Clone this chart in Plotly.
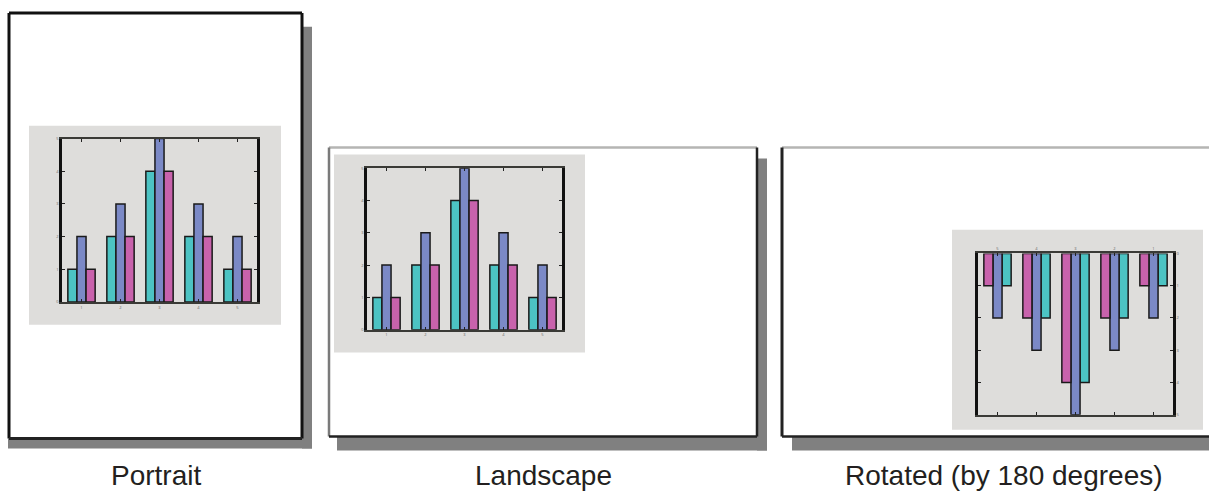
import plotly.graph_objects as go

W, H = 1209, 494

# ---- data ----
categories = ["1", "2", "3", "4", "5"]
series_names = ["A", "B", "C"]
series_a = [1, 2, 4, 2, 1]
series_b = [2, 3, 5, 3, 2]
series_c = [1, 2, 4, 2, 1]
y_ticks = [0, 1, 2, 3, 4, 5]
panel_labels = ["Portrait", "Landscape", "Rotated (by 180 degrees)"]

colors = ["#4cc3c3", "#7b89c6", "#c862ac"]
all_series = [series_a, series_b, series_c]


def px(x):
    return x / W


def py(y):
    return 1 - y / H


fig = go.Figure()

# plot area pixel boxes (left, right, top, bottom)
panels = [
    dict(box=(62, 257, 137, 302), rotated=False),
    dict(box=(367, 562, 167, 330), rotated=False),
    dict(box=(978, 1173, 253, 416), rotated=True),
]

for i, p in enumerate(panels):
    l, r, t, b = p["box"]
    xa = "x" if i == 0 else f"x{i+1}"
    ya = "y" if i == 0 else f"y{i+1}"
    for name, vals, col in zip(series_names, all_series, colors):
        fig.add_trace(go.Bar(
            x=categories, y=vals, name=name, xaxis=xa, yaxis=ya,
            marker=dict(color=col, line=dict(color="#1a1a1a", width=1.5)),
            showlegend=False,
        ))
    xkey = "xaxis" if i == 0 else f"xaxis{i+1}"
    ykey = "yaxis" if i == 0 else f"yaxis{i+1}"
    rot = p["rotated"]
    fig.layout[xkey] = dict(
        domain=[px(l), px(r)], anchor=ya,
        showline=True, linecolor="#3a3a36", linewidth=2, mirror="ticks",
        ticks="inside", ticklen=3, tickcolor="#222",
        tickfont=dict(size=4, color="#666"),
        showgrid=False, side="top" if rot else "bottom",
        autorange="reversed" if rot else True,
        fixedrange=True,
    )
    fig.layout[ykey] = dict(
        domain=[py(b), py(t)], anchor=xa,
        range=[5, 0] if rot else [0, 5],
        tickvals=y_ticks,
        showline=True, linecolor="#111", linewidth=2.5, mirror="ticks",
        ticks="inside", ticklen=3, tickcolor="#222",
        tickfont=dict(size=4, color="#666"),
        showgrid=False, zeroline=False, side="right" if rot else "left",
        fixedrange=True,
    )

shapes = []


def rect(x0, y0, x1, y1, fill, layer="below"):
    shapes.append(dict(type="rect", xref="paper", yref="paper",
                       x0=px(x0), x1=px(x1), y0=py(y1), y1=py(y0),
                       fillcolor=fill, line=dict(width=0), layer=layer))


def line(x0, y0, x1, y1, color, width):
    shapes.append(dict(type="line", xref="paper", yref="paper",
                       x0=px(x0), x1=px(x1), y0=py(y0), y1=py(y1),
                       line=dict(color=color, width=width), layer="below"))


# --- Portrait page ---
rect(302, 24, 312, 450, "#808080")
rect(8, 440, 312, 450, "#808080")
rect(9, 10, 302, 440, "#ffffff")
line(9, 10, 302, 10, "#111", 3)
line(9, 10, 9, 440, "#111", 3)
line(302, 10, 302, 440, "#111", 3)
line(9, 440, 302, 440, "#222", 3)
rect(29, 124, 281, 325, "#dedddb")

# --- Landscape page ---
rect(757, 157, 767, 452, "#808080")
rect(337, 438, 767, 452, "#808080")
rect(329, 146, 757, 438, "#ffffff")
line(329, 146, 757, 146, "#b5b5b3", 2.5)
line(329, 146, 329, 438, "#7a7a7a", 2.5)
line(757, 146, 757, 438, "#222", 2.5)
line(329, 438, 757, 438, "#222", 2.5)
rect(334, 153, 585, 353, "#dedddb")

# --- Rotated page ---
rect(792, 438, 1209, 452, "#808080")
rect(782, 147, 1209, 438, "#ffffff")
line(782, 146, 1209, 146, "#b5b5b3", 2.5)
line(782, 146, 782, 438, "#222", 3)
line(782, 438, 1209, 438, "#222", 2.5)
rect(952, 229, 1203, 431, "#dedddb")

fig.update_layout(shapes=shapes)

# labels
label_x = [155.5, 543, 1003.5]
for lab, lx in zip(panel_labels, label_x):
    fig.add_annotation(text=lab, x=px(lx), y=py(477), xref="paper", yref="paper",
                       showarrow=False, xanchor="center", yanchor="middle",
                       font=dict(family="Liberation Sans, Arial, sans-serif",
                                 size=28, color="#231f20"))

fig.update_layout(
    width=W, height=H,
    margin=dict(l=0, r=0, t=0, b=0),
    paper_bgcolor="#ffffff", plot_bgcolor="#ffffff",
    barmode="group", bargap=0.3, bargroupgap=0,
    showlegend=False,
)

fig.write_html("out.html", config={"displayModeBar": False},
               post_script="document.body.style.margin='0';document.body.style.overflow='hidden';")
